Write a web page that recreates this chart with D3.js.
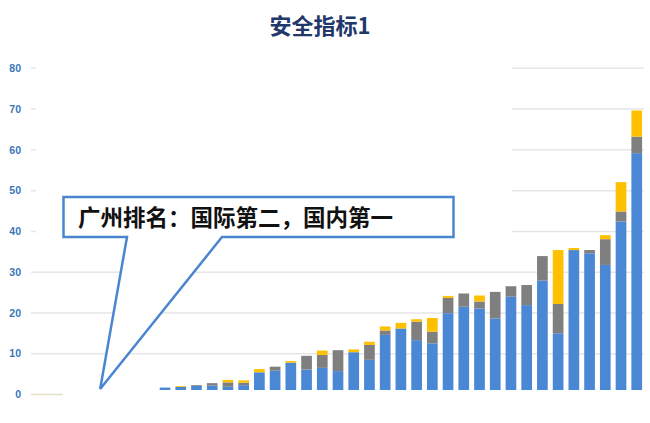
<!DOCTYPE html>
<html>
<head>
<meta charset="utf-8">
<script src="https://cdn.jsdelivr.net/npm/d3@7/dist/d3.min.js"></script>
<style>
  html, body { margin: 0; padding: 0; background: #ffffff; }
  svg { display: block; }
</style>
</head>
<body>
<svg id="chart" width="650" height="423"></svg>
<script>
// ---- data ----
const categories = d3.range(1, 40).map(i => "城市" + i);
categories[4] = "广州";
const seriesNames = ["指标A", "指标B", "指标C"];
const blueVals = [0,0,0,0,0,0,0,0,
  0.6,0.8,1.0,1.1,0.8,1.2,4.4,4.8,6.8,5.1,5.5,4.7,9.4,7.5,13.7,15.3,12.4,11.6,
  19.1,20.7,20.3,17.8,23.2,21.1,27.2,14.1,34.8,34.0,31.1,41.9,58.9];
const grayVals = [0,0,0,0,0,0,0,0,
  0,0,0.2,0.6,1.1,0.6,0,1.0,0,3.4,3.2,5.2,0,3.7,1.1,0,4.6,2.9,
  3.8,3.3,1.7,6.6,2.6,5.0,6.1,7.3,0,0.8,6.4,2.5,4.1];
const yellowVals = [0,0,0,0,0,0,0,0,
  0,0.2,0,0,0.6,0.6,0.8,0,0.4,0,1.1,0,0.7,0.8,1.0,1.4,0.6,3.4,
  0.5,0,1.5,0,0,0,0,13.4,0.5,0,1.0,7.3,6.5];
const yTicks = [0,10,20,30,40,50,60,70,80];
const titleText = "安全指标1";
const calloutText = "广州排名：国际第二，国内第一";
const calloutTarget = "广州";

// ---- layout ----
const svg = d3.select("#chart");
const colors = ["#4a88d6", "#7f7f7f", "#ffc000"];

const x = d3.scaleBand().domain(categories).range([31.4, 644.6])
  .paddingInner(0.32).paddingOuter(0.16);
const yGrid = d3.scaleLinear().domain([0, 80]).range([394.5, 68.3]);
const yBar = d3.scaleLinear().domain([0, 80]).range([390, 68.3]);

// title
svg.append("text")
  .attr("x", 320).attr("y", 34)
  .attr("text-anchor", "middle")
  .attr("font-family", "Noto Sans CJK SC, sans-serif")
  .attr("font-weight", "bold")
  .attr("font-size", 22)
  .attr("fill", "#22386b")
  .text(titleText);

// gridlines
svg.append("g").selectAll("line")
  .data(yTicks.filter(t => t > 0))
  .join("line")
  .attr("x1", 31).attr("x2", 644)
  .attr("y1", d => yGrid(d)).attr("y2", d => yGrid(d))
  .attr("stroke", "#e6e6e6").attr("stroke-width", 1.5);
// zero line (visible segment)
svg.append("line")
  .attr("x1", 31).attr("x2", x(categories[2]) - x.step() * 0.16)
  .attr("y1", yGrid(0)).attr("y2", yGrid(0))
  .attr("stroke", "#e4dfc8").attr("stroke-width", 1.5);

// white mask that hides the upper gridlines on the left
svg.append("rect")
  .attr("x", 36).attr("y", yGrid(82))
  .attr("width", 476).attr("height", yGrid(34) - yGrid(82))
  .attr("fill", "#ffffff");

// y tick labels
svg.append("g").selectAll("text")
  .data(yTicks)
  .join("text")
  .attr("x", 21).attr("y", d => yGrid(d))
  .attr("dy", "0.35em")
  .attr("text-anchor", "end")
  .attr("font-family", "Liberation Sans, Arial, sans-serif")
  .attr("font-weight", "bold")
  .attr("font-size", 10.5)
  .attr("fill", "#3a76b8")
  .text(d => d);

// stacked bars
const table = categories.map((c, i) => ({
  cat: c, [seriesNames[0]]: blueVals[i], [seriesNames[1]]: grayVals[i], [seriesNames[2]]: yellowVals[i]
}));
const stacked = d3.stack().keys(seriesNames)(table);
svg.append("g").selectAll("g")
  .data(stacked)
  .join("g")
  .attr("fill", (d, i) => colors[i])
  .selectAll("rect")
  .data(d => d.filter(p => p[1] - p[0] > 0))
  .join("rect")
  .attr("x", d => x(d.data.cat))
  .attr("width", x.bandwidth())
  .attr("y", d => yBar(d[1]))
  .attr("height", d => yBar(d[0]) - yBar(d[1]));

// callout
const boxX = 63.5, boxY = 197, boxW = 390, boxH = 40;
const tipX = x(calloutTarget) + x.bandwidth() / 2 - 2;
const tipY = yBar(0) - 1;
const legL = 127, legR = 222;
const path = d3.path();
path.moveTo(boxX, boxY);
path.lineTo(boxX + boxW, boxY);
path.lineTo(boxX + boxW, boxY + boxH);
path.lineTo(legR, boxY + boxH);
path.lineTo(tipX, tipY);
path.lineTo(legL, boxY + boxH);
path.lineTo(boxX, boxY + boxH);
path.closePath();
svg.append("path")
  .attr("d", path.toString())
  .attr("fill", "#ffffff")
  .attr("stroke", "#4a86d0")
  .attr("stroke-width", 2.5)
  .attr("stroke-linejoin", "miter");

svg.append("text")
  .attr("x", 78).attr("y", boxY + boxH / 2 + 1)
  .attr("dy", "0.36em")
  .attr("font-family", "Noto Sans CJK SC, sans-serif")
  .attr("font-weight", "bold")
  .attr("font-size", 22.5)
  .attr("fill", "#111111")
  .text(calloutText);
</script>
</body>
</html>
